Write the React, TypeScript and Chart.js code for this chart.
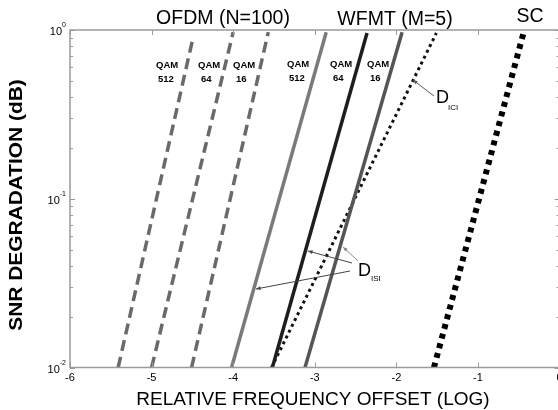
import React, { useEffect, useRef } from "react";
import { Chart, registerables } from "chart.js";

Chart.register(...registerables);

const FONT = '"Liberation Sans", Arial, Helvetica, sans-serif';

// x: log10 of relative frequency offset, y: SNR degradation (dB)
const ofdmQam512 = [
  { x: -5.41, y: 0.01 },
  { x: -4.49, y: 0.91 },
];
const ofdmQam64 = [
  { x: -5.0, y: 0.01 },
  { x: -4.0, y: 0.97 },
];
const ofdmQam16 = [
  { x: -4.51, y: 0.01 },
  { x: -3.57, y: 0.97 },
];
const wfmtQam512 = [
  { x: -4.02, y: 0.01 },
  { x: -2.86, y: 0.97 },
];
const wfmtQam64 = [
  { x: -3.52, y: 0.01 },
  { x: -2.36, y: 0.96 },
];
const wfmtQam16 = [
  { x: -3.12, y: 0.01 },
  { x: -1.93, y: 0.97 },
];
const dIci = [
  { x: -3.53, y: 0.01 },
  { x: -1.51, y: 0.96 },
];
const singleCarrier = [
  { x: -1.54, y: 0.01 },
  { x: -0.44, y: 0.97 },
];

const xTicks = [-6, -5, -4, -3, -2, -1, 0];
const yTickExponents = [0, -1, -2];
const groupTitles = ["OFDM (N=100)", "WFMT (M=5)", "SC"];
const qamLabels = ["512", "64", "16"];

const overlay = {
  id: "overlay",
  afterDraw(chart: any) {
    const ctx = chart.ctx as CanvasRenderingContext2D;
    const { left, right, top, bottom } = chart.chartArea;
    const xs = chart.scales.x;
    const ys = chart.scales.y;
    ctx.save();

    // box
    ctx.strokeStyle = "#9a9a9a";
    ctx.lineWidth = 1.5;
    ctx.beginPath();
    ctx.moveTo(left, top);
    ctx.lineTo(right, top);
    ctx.lineTo(right, bottom);
    ctx.lineTo(left, bottom);
    ctx.closePath();
    ctx.stroke();

    // x ticks
    ctx.lineWidth = 1;
    ctx.beginPath();
    for (const v of xTicks) {
      const px = Math.round(xs.getPixelForValue(v)) + 0.5;
      ctx.moveTo(px, bottom);
      ctx.lineTo(px, bottom - 5);
      ctx.moveTo(px, top);
      ctx.lineTo(px, top + 5);
    }
    // y ticks
    for (const e of yTickExponents) {
      const py = Math.round(ys.getPixelForValue(Math.pow(10, e))) + 0.5;
      ctx.moveTo(left, py);
      ctx.lineTo(left + 5, py);
      ctx.moveTo(right, py);
      ctx.lineTo(right - 5, py);
      if (e < 0) {
        for (let k = 2; k <= 9; k++) {
          const pm = Math.round(ys.getPixelForValue(k * Math.pow(10, e))) + 0.5;
          ctx.moveTo(left, pm);
          ctx.lineTo(left + 3, pm);
          ctx.moveTo(right, pm);
          ctx.lineTo(right - 3, pm);
        }
      }
    }
    ctx.stroke();

    // tick labels
    ctx.fillStyle = "#000";
    ctx.font = `11px ${FONT}`;
    ctx.textAlign = "center";
    ctx.textBaseline = "alphabetic";
    for (const v of xTicks) {
      ctx.fillText(String(v), xs.getPixelForValue(v), bottom + 13);
    }
    for (const e of yTickExponents) {
      const py = ys.getPixelForValue(Math.pow(10, e));
      ctx.font = `7px ${FONT}`;
      ctx.textAlign = "right";
      const sup = String(e);
      const sw = ctx.measureText(sup).width;
      ctx.fillText(sup, left - 4, py - 3);
      ctx.font = `11px ${FONT}`;
      ctx.fillText("10", left - 4 - sw, py + 5);
    }

    // axis titles
    ctx.font = `19px ${FONT}`;
    ctx.textAlign = "center";
    ctx.fillText("RELATIVE FREQUENCY OFFSET (LOG)", 313, 405);
    ctx.save();
    ctx.translate(22, 205);
    ctx.rotate(-Math.PI / 2);
    ctx.scale(1.1, 1);
    ctx.font = `bold 19px ${FONT}`;
    ctx.fillText("SNR DEGRADATION (dB)", 0, 0);
    ctx.restore();

    // group titles
    ctx.font = `19.5px ${FONT}`;
    ctx.textAlign = "center";
    ctx.fillText(groupTitles[0], 223, 24);
    ctx.fillText(groupTitles[1], 395, 25);
    ctx.fillText(groupTitles[2], 530, 22);

    // QAM labels
    ctx.font = `bold 9.5px ${FONT}`;
    ctx.textAlign = "left";
    const qamPos = [
      [156, 158],
      [198, 201],
      [233, 236],
      [287, 289],
      [330, 333],
      [367, 370],
    ];
    qamPos.forEach((p, i) => {
      const base = i < 3 ? 68 : 67;
      ctx.fillText("QAM", p[0], base);
      ctx.fillText(qamLabels[i % 3], p[1], base + 14);
    });

    // D_ICI
    ctx.font = `18px ${FONT}`;
    ctx.fillText("D", 436, 103);
    ctx.font = `8px ${FONT}`;
    ctx.fillText("ICI", 448, 110);
    // D_ISI
    ctx.font = `18px ${FONT}`;
    ctx.fillText("D", 358, 276);
    ctx.font = `8px ${FONT}`;
    ctx.fillText("ISI", 371, 281);

    // leader lines / arrows
    const arrow = (x1: number, y1: number, x2: number, y2: number, col: string) => {
      ctx.strokeStyle = col;
      ctx.fillStyle = col;
      ctx.lineWidth = 1;
      ctx.beginPath();
      ctx.moveTo(x1, y1);
      ctx.lineTo(x2, y2);
      ctx.stroke();
      const a = Math.atan2(y2 - y1, x2 - x1);
      const L = 5;
      ctx.beginPath();
      ctx.moveTo(x2, y2);
      ctx.lineTo(x2 - L * Math.cos(a - 0.4), y2 - L * Math.sin(a - 0.4));
      ctx.lineTo(x2 - L * Math.cos(a + 0.4), y2 - L * Math.sin(a + 0.4));
      ctx.closePath();
      ctx.fill();
    };
    arrow(434, 96, 413, 80, "#555");
    arrow(358, 261, 343, 247, "#888");
    arrow(352, 263, 308, 251, "#444");
    arrow(350, 271, 256, 289, "#444");

    ctx.restore();
  },
};

export default function App() {
  const ref = useRef<HTMLCanvasElement>(null);
  useEffect(() => {
    if (!ref.current) return;
    const mk = (
      label: string,
      data: { x: number; y: number }[],
      color: string,
      width: number,
      dash: number[]
    ) => ({
      label,
      data,
      borderColor: color,
      borderWidth: width,
      borderDash: dash,
      borderCapStyle: "butt" as const,
      pointRadius: 0,
      fill: false,
      tension: 0,
    });
    const chart = new Chart(ref.current, {
      type: "line",
      data: {
        datasets: [
          mk("OFDM QAM512", ofdmQam512, "#6a6a6a", 3.5, [11, 6]),
          mk("OFDM QAM64", ofdmQam64, "#6a6a6a", 3.5, [11, 6]),
          mk("OFDM QAM16", ofdmQam16, "#6a6a6a", 3.5, [11, 6]),
          mk("WFMT QAM512", wfmtQam512, "#7a7a7a", 3.5, []),
          mk("WFMT QAM64", wfmtQam64, "#1e1e1e", 3.5, []),
          mk("WFMT QAM16", wfmtQam16, "#555555", 3.5, []),
          mk("D_ICI", dIci, "#111111", 3, [3, 3.5]),
          mk("SC", singleCarrier, "#000000", 6, [5, 5]),
        ],
      },
      options: {
        animation: false,
        responsive: false,
        events: [],
        layout: { padding: { left: 70, top: 30, right: 2.4, bottom: 42.5 } },
        plugins: { legend: { display: false }, tooltip: { enabled: false } },
        scales: {
          x: { type: "linear", min: -6, max: 0, display: false },
          y: { type: "logarithmic", min: 0.01, max: 1, display: false },
        },
      },
      plugins: [overlay],
    });
    return () => chart.destroy();
  }, []);
  return (
    <div
      style={{
        position: "fixed",
        left: 0,
        top: 0,
        width: 558,
        height: 410,
        overflow: "hidden",
        background: "#fff",
      }}
    >
      <canvas ref={ref} width={562} height={410} style={{ display: "block" }} />
    </div>
  );
}
